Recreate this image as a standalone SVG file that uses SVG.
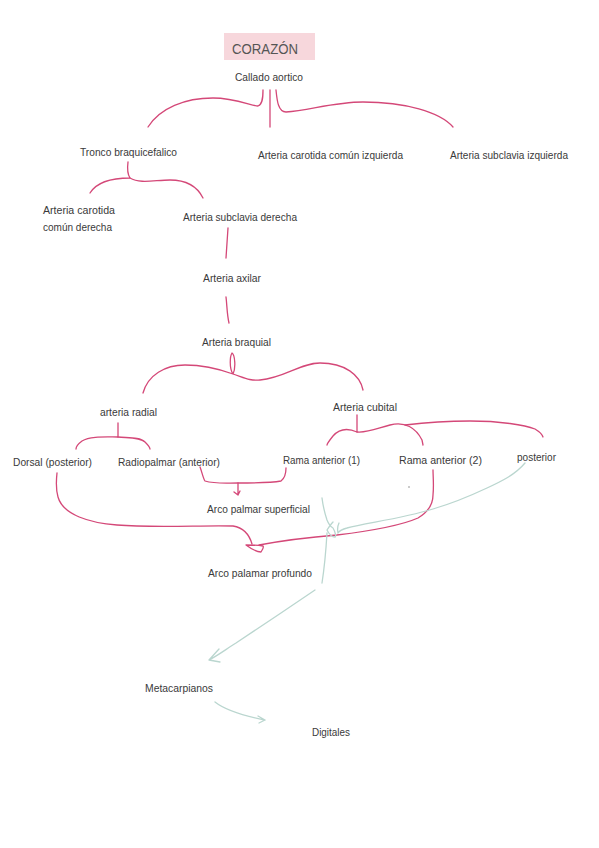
<svg xmlns="http://www.w3.org/2000/svg" width="599" height="848" viewBox="0 0 599 848">
<style>
text{font-family:"Liberation Sans",Arial,sans-serif;font-size:11px;fill:#3a3a3a;}
.t{font-size:15px;fill:#555;}
.p{fill:none;stroke:#d44878;stroke-width:1.3;stroke-linecap:round;stroke-linejoin:round;}
.g{fill:none;stroke:#bad6cf;stroke-width:1.3;stroke-linecap:round;stroke-linejoin:round;}
</style>
<rect width="599" height="848" fill="#ffffff"/>
<g id="corazon"><rect x="224" y="33" width="91" height="27" fill="#f7d7dc"/><text class="t" x="232" y="54" textLength="66" lengthAdjust="spacingAndGlyphs">CORAZÓN</text></g>
<g id="callado"><text x="235" y="81" textLength="68" lengthAdjust="spacingAndGlyphs">Callado aortico</text></g>
<g id="tronco"><text x="80" y="156" textLength="97" lengthAdjust="spacingAndGlyphs">Tronco braquicefalico</text></g>
<g id="carotida-izq"><text x="258" y="159" textLength="145" lengthAdjust="spacingAndGlyphs">Arteria carotida común izquierda</text></g>
<g id="subclavia-izq"><text x="450" y="159" textLength="118" lengthAdjust="spacingAndGlyphs">Arteria subclavia izquierda</text></g>
<g id="carotida-der"><text x="43" y="214" textLength="72" lengthAdjust="spacingAndGlyphs">Arteria carotida</text><text x="43" y="231" textLength="69" lengthAdjust="spacingAndGlyphs">común derecha</text></g>
<g id="subclavia-der"><text x="183" y="221" textLength="114" lengthAdjust="spacingAndGlyphs">Arteria subclavia derecha</text></g>
<g id="axilar"><text x="203" y="282" textLength="58" lengthAdjust="spacingAndGlyphs">Arteria axilar</text></g>
<g id="braquial"><text x="202" y="346" textLength="69" lengthAdjust="spacingAndGlyphs">Arteria braquial</text></g>
<g id="radial"><text x="100" y="416" textLength="57" lengthAdjust="spacingAndGlyphs">arteria radial</text></g>
<g id="cubital"><text x="333" y="411" textLength="64" lengthAdjust="spacingAndGlyphs">Arteria cubital</text></g>
<g id="dorsal"><text x="13" y="466" textLength="79" lengthAdjust="spacingAndGlyphs">Dorsal (posterior)</text></g>
<g id="radiopalmar"><text x="118" y="466" textLength="102" lengthAdjust="spacingAndGlyphs">Radiopalmar (anterior)</text></g>
<g id="rama1"><text x="283" y="464" textLength="77" lengthAdjust="spacingAndGlyphs">Rama anterior (1)</text></g>
<g id="rama2"><text x="399" y="464" textLength="83" lengthAdjust="spacingAndGlyphs">Rama anterior (2)</text></g>
<g id="posterior"><text x="517" y="461" textLength="39" lengthAdjust="spacingAndGlyphs">posterior</text></g>
<g id="superficial"><text x="207" y="513" textLength="103" lengthAdjust="spacingAndGlyphs">Arco palmar superficial</text></g>
<g id="profundo"><text x="208" y="577" textLength="104" lengthAdjust="spacingAndGlyphs">Arco palamar profundo</text></g>
<g id="metacarpianos"><text x="145" y="692" textLength="68" lengthAdjust="spacingAndGlyphs">Metacarpianos</text></g>
<g id="digitales"><text x="312" y="736" textLength="38" lengthAdjust="spacingAndGlyphs">Digitales</text></g>
<g id="connectors">
<path class="p" d="M148 127 C160 108 185 98 213 98 C235 98 252 106 258 106 C263 104 263 96 263 90"/>
<path class="p" d="M270 90 L270 127"/>
<path class="p" d="M276 90 C277 100 278 112 286 112 C310 110 335 102 363 102 C405 102 440 112 453 127"/>
<path class="p" d="M128 162 C127 170 128 175 130 178 C118 178 98 180 90 193"/>
<path class="p" d="M130 178 C140 184 155 180 170 180 C188 180 198 188 203 198"/>
<path class="p" d="M228 228 L226 258"/>
<path class="p" d="M226 297 C227 305 227 315 229 323"/>
<path class="p" d="M143 393 C148 375 165 365 185 365 C205 365 222 370 233 374 C229 368 230 356 232 353 C235 355 236 368 233 374 C245 378 250 381 260 380 C285 378 300 363 320 363 C345 363 360 375 363 390"/>
<path class="p" d="M118 423 L118 437 C105 437 90 436 82 441 C78 444 76 447 76 449"/>
<path class="p" d="M118 437 C128 438 140 437 145 442 C148 445 150 447 150 449"/>
<path class="p" d="M357 415 L357 432 C348 428 340 428 333 436 C329 441 327 444 327 445"/>
<path class="p" d="M357 432 C368 433 378 428 390 425 C405 421 416 428 422 440 L423 445"/>
<path class="p" d="M405 425 C430 422 450 421 470 421 C500 421 525 425 535 429 C540 432 542 434 543 437"/>
<path class="p" d="M200 467 C202 472 203 478 205 481 C215 484 225 483 238 483 C255 483 270 483 281 481 C285 478 286 472 286 468"/>
<path class="p" d="M238 483 L238 494 M234 492 L238 495 L240 491"/>
<path class="p" d="M57 473 C56 482 56 490 58 497 C63 515 90 523 117 525 C155 528 205 525 233 526 C245 528 250 537 252 544"/>
<path class="p" d="M246 545 C250 548 256 552 261 552 C263 549 264 547 263 546 C257 545 251 545 246 545 Z"/>
<path class="p" d="M259 545 C275 542 300 538 337 535 C370 531 400 526 418 518 C428 512 433 505 433 495 C434 485 433 476 433 470"/>
<circle cx="409" cy="487" r="0.8" fill="#888"/>
<path class="g" d="M525 463 C515 475 500 482 487 488 C470 496 450 504 433 509 C400 519 365 523 347 528 C343 529 340 530 338 533 M338 533 C337 528 338 525 339 523"/>
<path class="g" d="M322 498 C323 506 325 514 327 520 C329 525 331 527 333 528 C336 533 336 537 335 537 C331 537 328 532 327 530 C329 527 331 524 333 522"/>
<path class="g" d="M327 533 C326 550 324 570 322 583"/>
<path class="g" d="M315 590 C290 607 260 627 236 643 C225 650 217 656 209 660 M209 660 L219 649 M209 660 L220 662"/>
<path class="g" d="M215 702 C225 710 240 715 265 720 M265 720 L258 716 M265 720 L259 723"/>
</g>
</svg>
